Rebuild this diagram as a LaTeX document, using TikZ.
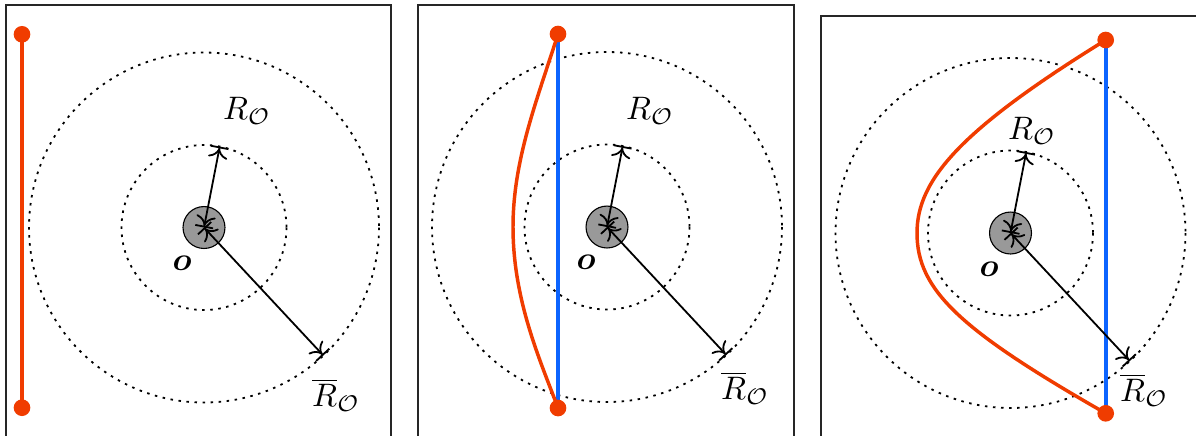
\documentclass[tikz,border=0pt]{standalone}
\usepackage{bm}
\usetikzlibrary{arrows.meta}
\definecolor{curvered}{RGB}{240,60,0}
\definecolor{lineblue}{RGB}{12,100,255}
\tikzset{
 panelframe/.style={draw=black!85,line width=0.45pt},
 ring/.style={draw,line width=0.65pt,dash pattern=on 0.9pt off 2.0pt},
 hub/.style={circle,draw,fill=black!40,line width=0.4pt,minimum size=15.1pt,inner sep=0pt},
 radiusarrow/.style={line width=0.65pt,{Bar[width=6.5pt]To[length=3.6pt,width=7pt]}-{To[length=3.6pt,width=7pt]Bar[width=6.5pt]}},
 redpath/.style={draw=curvered,line width=1.25pt},
 bluepath/.style={draw=lineblue,line width=1.5pt},
 enddot/.style={circle,fill=curvered,minimum size=6pt,inner sep=0pt},
 lbl/.style={inner sep=0pt,scale=1.17},
}
\newcommand\mypanel[5]{%
 \begin{scope}[shift={(#2,#3)}]
  \draw[ring] (0,0) circle[radius=82.5];
  \draw[ring] (0,0) circle[radius=175];
  \node[hub] (hub#1) at (0,0) {};
  \coordinate (in#1) at (-79:82.5);
  \coordinate (out#1) at (47:175);
 \end{scope}
 #4
 \draw[radiusarrow] (hub#1.center) -- (in#1);
 \draw[radiusarrow] (hub#1.center) -- (out#1);
 #5
}
\begin{document}
\begin{tikzpicture}[x=0.36pt,y=-0.36pt]
\useasboundingbox (0,0) rectangle (1196,435);
\clip (0,0) rectangle (1196,435);
\draw[panelframe] (6,5) rectangle (391,470);
\draw[panelframe] (418,5) rectangle (794,470);
\draw[panelframe] (821,16) rectangle (1230,470);

\mypanel{1}{204}{227.5}{%
 \coordinate (ta1) at (22,34.3);
 \coordinate (tb1) at (22,407.7);
 \draw[redpath] (ta1) -- (tb1);
 \node[enddot] (da1) at (ta1) {};
 \node[enddot] (db1) at (tb1) {};
}{%
 \node[lbl] (r1) at (247,111) {$R_{\mathcal{O}}$};
 \node[lbl] (rb1) at (336,395) {$\overline{R}_{\mathcal{O}}$};
 \node[lbl] (o1) at (182,263) {$\bm{o}$};
}

\mypanel{2}{607}{227}{%
 \coordinate (ta2) at (558,34);
 \coordinate (tb2) at (558,408);
 \coordinate (nose2) at (513,227);
 \draw[bluepath] (ta2) -- (tb2);
 \draw[redpath] (ta2) .. controls (537,100) and (513,160) .. (nose2)
   .. controls (513,300) and (540,360) .. (tb2);
 \node[enddot] (da2) at (ta2) {};
 \node[enddot] (db2) at (tb2) {};
}{%
 \node[lbl] (r2) at (650,111) {$R_{\mathcal{O}}$};
 \node[lbl] (rb2) at (745,388) {$\overline{R}_{\mathcal{O}}$};
 \node[lbl] (o2) at (586,262) {$\bm{o}$};
}

\mypanel{3}{1010.5}{233}{%
 \coordinate (ta3) at (1105.7,40);
 \coordinate (tb3) at (1105.7,413.3);
 \coordinate (nose3) at (917,233);
 \draw[bluepath] (ta3) -- (tb3);
 \draw[redpath] (ta3) .. controls (960,130) and (917,180) .. (nose3)
   .. controls (917,290) and (960,330) .. (tb3);
 \node[enddot] (da3) at (ta3) {};
 \node[enddot] (db3) at (tb3) {};
}{%
 \node[lbl] (r3) at (1032,131) {$R_{\mathcal{O}}$};
 \node[lbl] (rb3) at (1144,390) {$\overline{R}_{\mathcal{O}}$};
 \node[lbl] (o3) at (989,269) {$\bm{o}$};
}
\end{tikzpicture}
\end{document}
